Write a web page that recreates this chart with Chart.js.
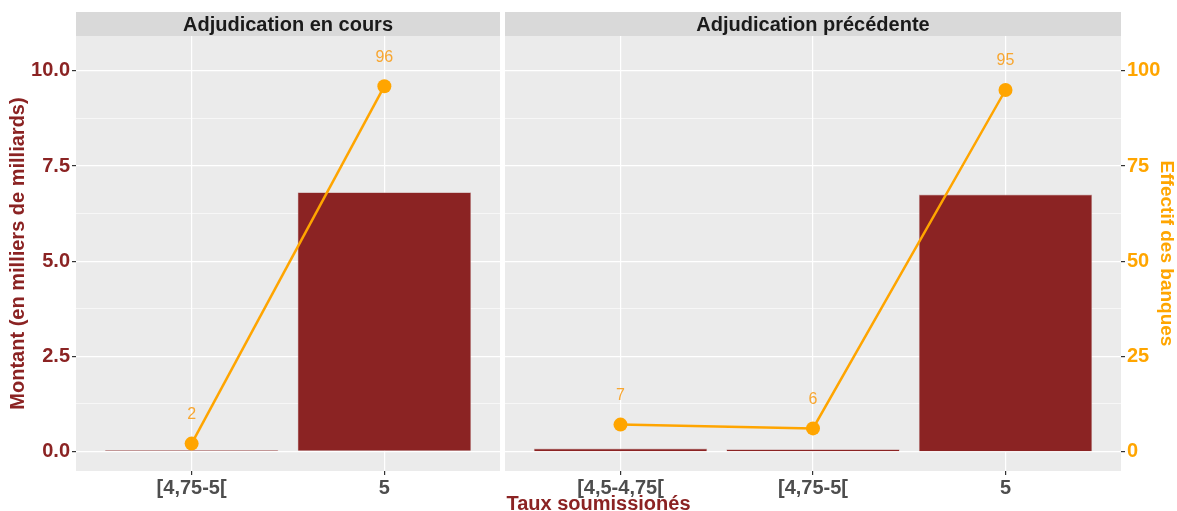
<!DOCTYPE html>
<html>
<head>
<meta charset="utf-8">
<script src="https://cdn.jsdelivr.net/npm/chart.js@4/dist/chart.umd.min.js"></script>
<style>
  html, body { margin:0; padding:0; background:#fff; }
  body { width:1177px; height:511px; position:relative; overflow:hidden; font-family:"Liberation Sans", Arial, sans-serif; }
  #c1 { position:absolute; left:0; top:0; }
  #c2 { position:absolute; left:500px; top:0; }
  #xtitle { position:absolute; left:76px; width:1045px; top:491px; text-align:center; font-weight:bold; font-size:20px; line-height:24px; color:#8B2323; }
</style>
</head>
<body>
<canvas id="c1" width="500" height="511"></canvas>
<canvas id="c2" width="677" height="511"></canvas>
<div id="xtitle">Taux soumissionés</div>
<script>
// ---- Data ----
const panelTitles = ['Adjudication en cours', 'Adjudication précédente'];
const categoriesCurrent = ['[4,75-5[', '5'];
const montantCurrent = [0.03, 6.81];
const effectifCurrent = [2, 96];
const categoriesPrevious = ['[4,5-4,75[', '[4,75-5[', '5'];
const montantPrevious = [0.07, 0.05, 6.75];
const effectifPrevious = [7, 6, 95];
const leftTicks = [0, 2.5, 5, 7.5, 10];
const leftTickLabels = ['0.0', '2.5', '5.0', '7.5', '10.0'];
const rightTicks = [0, 25, 50, 75, 100];
const rightTickLabels = ['0', '25', '50', '75', '100'];
const yTitleLeft = 'Montant (en milliers de milliards)';
const yTitleRight = 'Effectif des banques';

// ---- Styles ----
const FONT = '"Liberation Sans", Arial, sans-serif';
const RED = '#8B2323';
const ORANGE = '#FFA500';
const ORANGE_TXT = '#F8A630';
const LEFT_MIN = -0.52, LEFT_MAX = 10.92;
const RIGHT_MIN = -5.2, RIGHT_MAX = 109.2;

function withMinors(major) {
  const out = [];
  for (let i = 0; i < major.length; i++) {
    out.push({ value: major[i], minor: false });
    if (i < major.length - 1) out.push({ value: (major[i] + major[i + 1]) / 2, minor: true });
  }
  return out;
}

const panelPlugin = {
  id: 'panel',
  beforeDraw(chart, args, opts) {
    const { ctx, chartArea: a } = chart;
    ctx.save();
    ctx.fillStyle = '#EBEBEB';
    ctx.fillRect(a.left, a.top, a.right - a.left, a.bottom - a.top);
    ctx.fillStyle = '#D9D9D9';
    ctx.fillRect(a.left, 12, a.right - a.left, a.top - 12);
    ctx.fillStyle = '#1A1A1A';
    ctx.font = 'bold 20px ' + FONT;
    ctx.textAlign = 'center';
    ctx.textBaseline = 'middle';
    ctx.fillText(opts.title, (a.left + a.right) / 2, (12 + a.top) / 2 + 1);
    ctx.restore();
  },
  afterDatasetsDraw(chart) {
    const { ctx } = chart;
    chart.data.datasets.forEach((ds, di) => {
      if (ds.type !== 'line') return;
      const meta = chart.getDatasetMeta(di);
      ctx.save();
      ctx.fillStyle = ORANGE_TXT;
      ctx.font = '16px ' + FONT;
      ctx.textAlign = 'center';
      ctx.textBaseline = 'middle';
      meta.data.forEach((pt, i) => {
        ctx.fillText(String(ds.data[i].y), pt.x, pt.y - 29);
      });
      ctx.restore();
    });
  }
};

function xScale(categories) {
  return {
    type: 'linear',
    offset: false,
    min: 0.4,
    max: categories.length + 0.6,
    afterBuildTicks(s) { s.ticks = categories.map((c, i) => ({ value: i + 1 })); },
    afterFit(s) { s.height = 40; },
    border: { display: false },
    grid: { offset: false, color: '#FFFFFF', lineWidth: 1.2, tickColor: '#333333', tickLength: 4, drawTicks: true },
    ticks: {
      autoSkip: false, maxRotation: 0, minRotation: 0, padding: 1,
      color: '#4D4D4D', font: { family: FONT, size: 20, weight: 'bold' },
      callback: (v) => categories[Math.round(v) - 1]
    }
  };
}

function yVisible(position, min, max, major, labels, color, title, width, titlePad) {
  return {
    type: 'linear',
    position,
    min, max,
    afterBuildTicks(s) { s.ticks = withMinors(major); },
    afterFit(s) { s.width = width; },
    border: { display: false },
    grid: {
      color: '#FFFFFF',
      lineWidth: (c) => (c.tick && c.tick.minor) ? 0.6 : 1.2,
      tickColor: (c) => (c.tick && c.tick.minor) ? 'rgba(0,0,0,0)' : '#333333',
      tickLength: 4, drawTicks: true
    },
    ticks: {
      autoSkip: false, padding: 2,
      color, font: { family: FONT, size: 20, weight: 'bold' },
      callback: (v) => { const i = major.indexOf(v); return i >= 0 ? labels[i] : ''; }
    },
    title: {
      display: true, text: title, color,
      font: { family: FONT, size: position === 'left' ? 20 : 19, weight: 'bold', lineHeight: 1.0 },
      padding: titlePad
    }
  };
}

function yHidden(min, max) {
  return { type: 'linear', display: false, min, max };
}

function barDs(values) {
  return {
    type: 'bar', order: 1,
    data: values.map((v, i) => ({ x: i + 1, y: v })),
    backgroundColor: RED, borderColor: 'rgba(200,160,160,0.9)', borderWidth: 0.6,
    barPercentage: 1.0, categoryPercentage: 0.9
  };
}
function lineDs(values, axis) {
  return {
    type: 'line', order: 0, yAxisID: axis,
    data: values.map((v, i) => ({ x: i + 1, y: v })),
    borderColor: ORANGE, backgroundColor: ORANGE, borderWidth: 2.5,
    pointRadius: 7, pointBackgroundColor: ORANGE, pointBorderColor: ORANGE, pointBorderWidth: 0,
    tension: 0
  };
}

const common = {
  responsive: false, animation: false,
  plugins: { legend: { display: false }, tooltip: { enabled: false } }
};

new Chart(document.getElementById('c1'), {
  data: { datasets: [ { ...barDs(montantCurrent), yAxisID: 'y' }, lineDs(effectifCurrent, 'y1') ] },
  options: {
    ...common,
    layout: { autoPadding: false, padding: { top: 36, left: 0, right: 0, bottom: 0 } },
    plugins: { ...common.plugins, panel: { title: panelTitles[0] } },
    scales: {
      x: xScale(categoriesCurrent),
      y: yVisible('left', LEFT_MIN, LEFT_MAX, leftTicks, leftTickLabels, RED, yTitleLeft, 76, { top: 8, bottom: 0 }),
      y1: yHidden(RIGHT_MIN, RIGHT_MAX)
    }
  },
  plugins: [panelPlugin]
});

new Chart(document.getElementById('c2'), {
  data: { datasets: [ { ...barDs(montantPrevious), yAxisID: 'y' }, lineDs(effectifPrevious, 'y1') ] },
  options: {
    ...common,
    layout: { autoPadding: false, padding: { top: 36, left: 5, right: 0, bottom: 0 } },
    plugins: { ...common.plugins, panel: { title: panelTitles[1] } },
    scales: {
      x: xScale(categoriesPrevious),
      y: yHidden(LEFT_MIN, LEFT_MAX),
      y1: yVisible('right', RIGHT_MIN, RIGHT_MAX, rightTicks, rightTickLabels, ORANGE, yTitleRight, 56, { top: 1, bottom: 0 })
    }
  },
  plugins: [panelPlugin]
});
</script>
</body>
</html>
